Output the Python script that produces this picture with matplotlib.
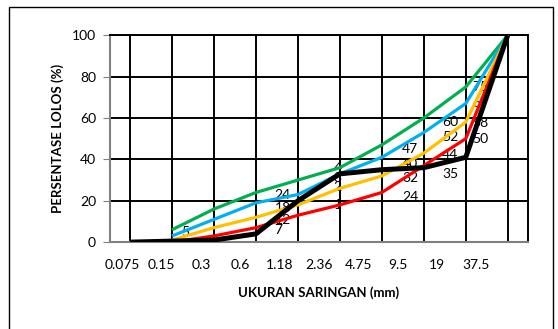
import matplotlib.pyplot as plt
import numpy as np
from matplotlib.patches import Rectangle

plt.rcParams["font.family"] = ["Lato", "DejaVu Sans"]

sizes = ["0.075", "0.15", "0.3", "0.6", "1.18", "2.36", "4.75", "9.5", "19", "37.5"]

# percent passing per sieve (None = no value)
green = [None, 6, 16, 24, 30, 36, 47, 60, 75, 100]
blue = [None, 3, 11, 19, 23, 33, 41, 53, 67, 100]
yellow = [None, 1, 7, 12, 18, 26, 32, 43, 58, 100]
red = [None, 0, 3, 7, 13, 18, 24, 37, 50, 100]
black = [0, 0.5, 1, 4, 20, 33, 35, 36, 41, 100]

# spec labels (text, x position in category units, y)
label_text = ["5", "24", "18", "12", "7", "4", "3", "2", "1",
              "47", "40", "32", "24", "60", "52", "44", "35",
              "75", "67", "58", "50"]
label_x = [1.32, 3.64, 3.64, 3.64, 3.54, 4.95, 4.95, 4.95, 4.95,
           6.67, 6.67, 6.67, 6.67, 7.63, 7.63, 7.63, 7.63,
           8.35, 8.35, 8.35, 8.35]
label_y = [4.8, 22.7, 16.4, 10.6, 5.8, 36, 31, 26.5, 18,
           45, 38, 31, 22, 58, 50.7, 42, 33,
           75, 67, 57.5, 50]

fig = plt.figure(figsize=(5.58, 3.29), dpi=100)
fig.patches.append(Rectangle((9 / 558, -0.02), 544 / 558, 322 / 329 + 0.02,
                             transform=fig.transFigure, fill=False,
                             edgecolor="black", linewidth=1.0))
ax = fig.add_axes([0.197, 0.264, 0.749, 0.629])

x = np.arange(len(sizes))


def series(vals):
    return np.array([np.nan if v is None else v for v in vals], dtype=float)


for vals, col, lw in [(green, "#00b050", 2.3), (blue, "#00b0f0", 2.3),
                      (yellow, "#ffc000", 2.3), (red, "#ff0000", 2.3),
                      (black, "#000000", 3.6)]:
    ax.plot(x, series(vals), color=col, lw=lw, zorder=3, solid_capstyle="butt")

for t, lx, ly in zip(label_text, label_x, label_y):
    ax.text(lx, ly, t, fontsize=10, ha="center", va="center", zorder=2)

ax.set_xlim(-0.48, 9.48)
ax.set_ylim(0, 100)
ax.set_yticks(range(0, 101, 20))
ax.set_xticks(x)
ax.set_xticklabels([])
ax.tick_params(axis="x", which="major", length=0)
ax.set_xticks(x * 0.938 - 0.19, minor=True)
ax.set_xticklabels(sizes, minor=True, fontsize=10)
ax.tick_params(axis="x", which="minor", length=0, pad=12)
ax.tick_params(axis="y", length=5, color="#808080", labelsize=10, pad=5)
ax.grid(True, which="major", color="black", lw=1.4, zorder=1)

for side in ["left", "bottom"]:
    ax.spines[side].set_color("#808080")
    ax.spines[side].set_linewidth(1.5)
for side in ["top", "right"]:
    ax.spines[side].set_color("black")
    ax.spines[side].set_linewidth(1.4)

ax.set_xlabel("UKURAN SARINGAN (mm)", fontsize=9.5, fontweight="bold", labelpad=11)
ax.set_ylabel("PERSENTASE LOLOS (%)", fontsize=9.5, fontweight="bold", labelpad=6)

fig.savefig("out.png", dpi=100)
